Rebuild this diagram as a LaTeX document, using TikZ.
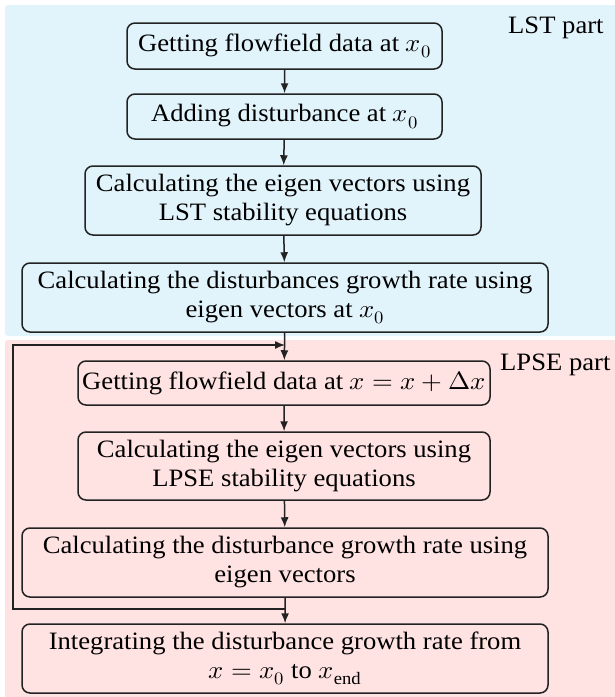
\documentclass[tikz,border=0pt]{standalone}
\usepackage{fontspec}
\usepackage{unicode-math}
\setmainfont{Liberation Serif}
\usetikzlibrary{arrows.meta}

\definecolor{lstblue}{HTML}{E2F4FB}
\definecolor{lpsepink}{HTML}{FFE2E2}
\definecolor{edge}{HTML}{222222}

\tikzset{
  stepbox/.style={draw=edge, line width=1.5pt, rounded corners=8pt, align=center,
    inner sep=0pt, font=\fontsize{25}{29}\selectfont},
  flow/.style={-{Latex[length=10pt,width=8pt]}, line width=1.5pt, draw=edge},
  partlabel/.style={anchor=base west, inner sep=0pt, font=\fontsize{25}{29}\selectfont}
}

\begin{document}
\begin{tikzpicture}[x=0.93897pt, y=-1pt, xscale=1.065, transform shape]
    \useasboundingbox (0,0) rectangle (615,697);
    % the two parts
    \fill[lstblue, rounded corners=3pt] (5,5) rectangle (630,336);
    \fill[lpsepink, rounded corners=3pt] (5,340) rectangle (630,710);
    \node[partlabel] (lstlabel) at (508,33) {LST part};
    \node[partlabel] (lpselabel) at (500,370) {LPSE part};
    % (a) LST
    \node[stepbox, minimum width=315pt/1.065, minimum height=46pt] (getx0) at (284.5,46)
      {Getting flowfield data at $x_0$};
    \node[stepbox, minimum width=315pt/1.065, minimum height=45pt] (adddist) at (284.5,116.5)
      {Adding disturbance at $x_0$};
    \node[stepbox, minimum width=396pt/1.065, minimum height=69pt] (lsteig) at (283,200.5)
      {Calculating the eigen vectors using\\LST stability equations};
    \node[stepbox, minimum width=526pt/1.065, minimum height=69pt] (lstrate) at (285,297.5)
      {Calculating the disturbances growth rate using\\eigen vectors at $x_0$};
    % (b) LPSE
    \node[stepbox, minimum width=412pt/1.065, minimum height=44pt] (getxdx) at (284,383)
      {Getting flowfield data at $x = x + \Delta x$};
    \node[stepbox, minimum width=412pt/1.065, minimum height=68pt] (lpseeig) at (284,466)
      {Calculating the eigen vectors using\\LPSE stability equations};
    \node[stepbox, minimum width=526pt/1.065, minimum height=69pt] (lpserate) at (285,562.5)
      {Calculating the disturbance growth rate using\\eigen vectors};
    \node[stepbox, minimum width=526pt/1.065, minimum height=69pt] (integ) at (285,658.5)
      {Integrating the disturbance growth rate from\\$x = x_0$ to $x_{\mathrm{end}}$};
    \draw[flow] (getx0) -- (adddist);
    \draw[flow] (adddist) -- (lsteig);
    \draw[flow] (lsteig) -- (lstrate);
    \draw[flow] (lstrate) -- (getxdx);
    \draw[flow] (getxdx) -- (lpseeig);
    \draw[flow] (lpseeig) -- (lpserate);
    \draw[flow] (lpserate) -- (integ);
    % loop back
    \coordinate (loopout) at (285,609);
    \coordinate (loopin) at (285,345);
    \draw[flow] (loopout) -- ++(-272,0) |- (loopin);
\end{tikzpicture}
\end{document}
